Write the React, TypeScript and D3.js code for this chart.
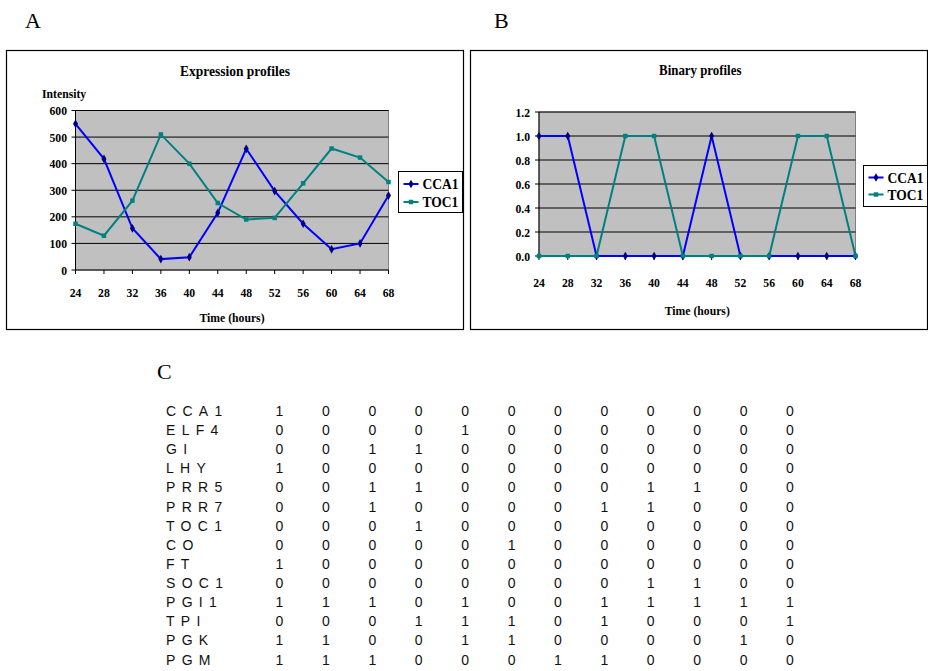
import React from 'react';
import * as d3 from 'd3';

// Sampling times (hours) shared by both profile charts
const hours = [24, 28, 32, 36, 40, 44, 48, 52, 56, 60, 64, 68];

// Expression intensities
const cca1Intensity = [550, 418, 157, 41, 48, 215, 456, 297, 174, 78, 100, 280];
const toc1Intensity = [174, 129, 261, 510, 400, 252, 190, 196, 326, 457, 423, 331];

// Binarised profiles
const cca1Binary = [1, 1, 0, 0, 0, 0, 1, 0, 0, 0, 0, 0];
const toc1Binary = [0, 0, 0, 1, 1, 0, 0, 0, 0, 1, 1, 0];

const intensityTicks = [0, 100, 200, 300, 400, 500, 600];
const binaryTicks = [0, 0.2, 0.4, 0.6, 0.8, 1.0, 1.2];

// Binary matrix of genes across the time points
const genes = ['CCA1', 'ELF4', 'GI', 'LHY', 'PRR5', 'PRR7', 'TOC1', 'CO', 'FT', 'SOC1', 'PGI1', 'TPI', 'PGK', 'PGM'];
const geneMatrix = [
  [1, 0, 0, 0, 0, 0, 0, 0, 0, 0, 0, 0],
  [0, 0, 0, 0, 1, 0, 0, 0, 0, 0, 0, 0],
  [0, 0, 1, 1, 0, 0, 0, 0, 0, 0, 0, 0],
  [1, 0, 0, 0, 0, 0, 0, 0, 0, 0, 0, 0],
  [0, 0, 1, 1, 0, 0, 0, 0, 1, 1, 0, 0],
  [0, 0, 1, 0, 0, 0, 0, 1, 1, 0, 0, 0],
  [0, 0, 0, 1, 0, 0, 0, 0, 0, 0, 0, 0],
  [0, 0, 0, 0, 0, 1, 0, 0, 0, 0, 0, 0],
  [1, 0, 0, 0, 0, 0, 0, 0, 0, 0, 0, 0],
  [0, 0, 0, 0, 0, 0, 0, 0, 1, 1, 0, 0],
  [1, 1, 1, 0, 1, 0, 0, 1, 1, 1, 1, 1],
  [0, 0, 0, 1, 1, 1, 0, 1, 0, 0, 0, 1],
  [1, 1, 0, 0, 1, 1, 0, 0, 0, 0, 1, 0],
  [1, 1, 1, 0, 0, 0, 1, 1, 0, 0, 0, 0],
];

const SERIF = '"Liberation Serif", "Times New Roman", serif';
const SANS = '"Liberation Sans", Arial, Helvetica, sans-serif';
const CCA1_COLOR = '#0000ff';
const CCA1_MARK = '#000080';
const TOC1_COLOR = '#008080';

type Series = { name: string; values: number[]; color: string; mark: string; symbol: d3.SymbolType; size: number };

// Bold serif text, slightly condensed like the charting program's output
function SText(props: { x: number; y: number; size: number; anchor?: string; children: React.ReactNode }) {
  const { x, y, size, anchor = 'middle', children } = props;
  return (
    <g transform={`translate(${x},${y}) scale(0.9,1)`}>
      <text fontFamily={SERIF} fontWeight="bold" fontSize={size} textAnchor={anchor} fill="#000">
        {children}
      </text>
    </g>
  );
}

type PanelProps = {
  box: { x: number; y: number; w: number; h: number };
  plot: { left: number; right: number; top: number; bottom: number };
  title: string;
  titleY: number;
  titleSize: number;
  yLabel?: string;
  yTicks: number[];
  yFormat: (v: number) => string;
  labelRight: number;
  xLabelY: number;
  xTitleY: number;
  legend: { x: number; y: number; w: number; h: number; rows: number[] };
  series: Series[];
};

function Panel(p: PanelProps) {
  const x = d3.scalePoint<number>().domain(hours).range([p.plot.left, p.plot.right]);
  const y = d3
    .scaleLinear()
    .domain([p.yTicks[0], p.yTicks[p.yTicks.length - 1]])
    .range([p.plot.bottom, p.plot.top]);
  const line = d3
    .line<number>()
    .x((_, i) => x(hours[i]) as number)
    .y((d) => y(d));
  const cx = (p.plot.left + p.plot.right) / 2;
  const w = p.plot.right - p.plot.left;
  const h = p.plot.bottom - p.plot.top;

  return (
    <g>
      <rect x={p.box.x} y={p.box.y} width={p.box.w} height={p.box.h} fill="#fff" stroke="#000" strokeWidth={1.2} />
      <SText x={cx + 3} y={p.titleY} size={p.titleSize}>{p.title}</SText>
      {p.yLabel && (
        <SText x={42} y={98} size={13} anchor="start">{p.yLabel}</SText>
      )}
      <rect x={p.plot.left} y={p.plot.top} width={w} height={h} fill="#c0c0c0" stroke="#808080" strokeWidth={1} />
      {p.yTicks.slice(1).map((t) => (
        <line key={t} x1={p.plot.left} x2={p.plot.right} y1={y(t)} y2={y(t)} stroke="#000" strokeWidth={1} />
      ))}
      <line x1={p.plot.left} x2={p.plot.left} y1={p.plot.top} y2={p.plot.bottom} stroke="#000" strokeWidth={1} />
      <line x1={p.plot.left} x2={p.plot.right} y1={p.plot.bottom} y2={p.plot.bottom} stroke="#000" strokeWidth={1} />
      {p.yTicks.map((t) => (
        <g key={t}>
          <line x1={p.plot.left - 4} x2={p.plot.left} y1={y(t)} y2={y(t)} stroke="#000" />
          <SText x={p.labelRight} y={y(t) + 4.5} size={13} anchor="end">{p.yFormat(t)}</SText>
        </g>
      ))}
      {hours.map((hr) => (
        <g key={hr}>
          <line x1={x(hr)} x2={x(hr)} y1={p.plot.bottom} y2={p.plot.bottom + 4} stroke="#000" />
          <SText x={x(hr) as number} y={p.xLabelY} size={13}>{hr}</SText>
        </g>
      ))}
      <SText x={cx} y={p.xTitleY} size={13}>Time (hours)</SText>
      {p.series.map((s) => (
        <g key={s.name}>
          <path d={line(s.values) as string} fill="none" stroke={s.color} strokeWidth={2} />
          {s.values.map((v, i) => (
            <path
              key={i}
              d={d3.symbol().type(s.symbol).size(s.size)() as string}
              transform={`translate(${x(hours[i])},${y(v)})`}
              fill={s.mark}
            />
          ))}
        </g>
      ))}
      <rect x={p.legend.x} y={p.legend.y} width={p.legend.w} height={p.legend.h} fill="#fff" stroke="#000" strokeWidth={1} />
      {p.series.map((s, i) => {
        const ly = p.legend.rows[i];
        return (
          <g key={s.name}>
            <line x1={p.legend.x + 5} x2={p.legend.x + 20} y1={ly} y2={ly} stroke={s.color} strokeWidth={2} />
            <path
              d={d3.symbol().type(s.symbol).size(s.size)() as string}
              transform={`translate(${p.legend.x + 12.5},${ly})`}
              fill={s.mark}
            />
            <SText x={p.legend.x + 24} y={ly + 5} size={15} anchor="start">{s.name}</SText>
          </g>
        );
      })}
    </g>
  );
}

function GeneTable() {
  const col = d3.scalePoint<number>().domain(d3.range(12)).range([279.5, 790]);
  const row = d3.scalePoint<string>().domain(genes).range([411, 659.5]);
  return (
    <g fontFamily={SANS} fontSize={14} fill="#111">
      {genes.map((g, r) => (
        <g key={g}>
          <text x={166} y={(row(g) as number) + 5} style={{ letterSpacing: '6.3px' }}>{g}</text>
          {geneMatrix[r].map((v, c) => (
            <text key={c} x={col(c)} y={(row(g) as number) + 5} textAnchor="middle">
              {v}
            </text>
          ))}
        </g>
      ))}
    </g>
  );
}

export default function App() {
  const diamond = d3.symbolDiamond;
  const square = d3.symbolSquare;
  return (
    <svg
      width={928}
      height={671}
      viewBox="0 0 928 671"
      style={{ position: 'absolute', left: 0, top: 0, background: '#fff' }}
    >
      <rect width={928} height={671} fill="#fff" />
      <text x={25} y={28} fontFamily={SERIF} fontSize={22}>A</text>
      <text x={494} y={28} fontFamily={SERIF} fontSize={22}>B</text>
      <text x={157} y={379} fontFamily={SERIF} fontSize={22}>C</text>
      <Panel
        box={{ x: 6.5, y: 50.5, w: 457, h: 279 }}
        plot={{ left: 75.5, right: 388.5, top: 110.5, bottom: 270 }}
        title="Expression profiles"
        titleY={75.5}
        titleSize={15}
        yLabel="Intensity"
        yTicks={intensityTicks}
        yFormat={(v) => String(v)}
        labelRight={67}
        xLabelY={297}
        xTitleY={322}
        legend={{ x: 398.5, y: 171.5, w: 64, h: 41, rows: [184, 202] }}
        series={[
          { name: 'CCA1', values: cca1Intensity, color: CCA1_COLOR, mark: CCA1_MARK, symbol: diamond, size: 22 },
          { name: 'TOC1', values: toc1Intensity, color: TOC1_COLOR, mark: TOC1_COLOR, symbol: square, size: 20 },
        ]}
      />
      <Panel
        box={{ x: 470.5, y: 50.5, w: 457, h: 279 }}
        plot={{ left: 539, right: 855.5, top: 112, bottom: 256 }}
        title="Binary profiles"
        titleY={74.5}
        titleSize={14.3}
        yTicks={binaryTicks}
        yFormat={(v) => v.toFixed(1)}
        labelRight={530}
        xLabelY={287}
        xTitleY={315}
        legend={{ x: 863.5, y: 165.5, w: 64, h: 41, rows: [177.5, 194.5] }}
        series={[
          { name: 'CCA1', values: cca1Binary, color: CCA1_COLOR, mark: CCA1_MARK, symbol: diamond, size: 22 },
          { name: 'TOC1', values: toc1Binary, color: TOC1_COLOR, mark: TOC1_COLOR, symbol: square, size: 20 },
        ]}
      />
      <GeneTable />
    </svg>
  );
}
